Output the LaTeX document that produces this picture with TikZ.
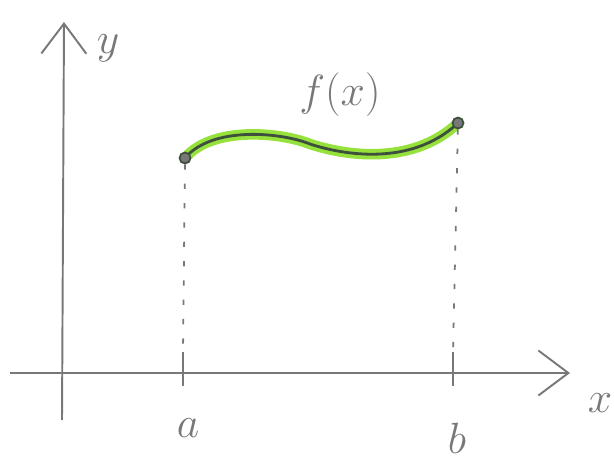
\documentclass[tikz,border=0pt]{standalone}
\usepackage{xcolor}
\definecolor{pencil}{RGB}{120,120,120}
\definecolor{hlgreen}{RGB}{150,225,60}
\definecolor{curvedark}{RGB}{60,80,60}
\usetikzlibrary{arrows.meta}

\begin{document}
\begin{tikzpicture}[
  x=0.02cm,y=0.02cm,
  axis/.style={draw=pencil,line width=1.1pt,-{Straight Barb[length=0.6cm,width=0.9cm]}},
  guide/.style={draw=pencil,line width=1pt,dash pattern=on 3pt off 8pt},
  tick/.style={draw=pencil,line width=1.2pt},
  lbl/.style={text=pencil,font=\fontsize{30}{32}\selectfont},
  dot/.style={circle,draw=curvedark,fill=pencil,line width=1pt,inner sep=0pt,minimum size=0.22cm}
]
  \useasboundingbox (0,0) rectangle (614,468);

  % Axes
  \coordinate (xs) at (10,95);
  \coordinate (xe) at (570,95);
  \coordinate (ys) at (62,48);
  \coordinate (ye) at (64,446);
  \draw[axis] (xs) -- (xe);
  \draw[axis] (ys) -- (ye);
  \node[lbl] (ylab) at (108,420) {$y$};
  \node[lbl] (xlab) at (600,65) {$x$};

  % Interval ends
  \coordinate (ta) at (183,116);
  \coordinate (tb) at (453,116);
  \coordinate (ba) at (183,82);
  \coordinate (bb) at (453,82);
  \draw[tick] (ta) -- (ba);
  \draw[tick] (tb) -- (bb);
  \node[lbl] (alab) at (188,40) {$a$};
  \node[lbl] (blab) at (457,30) {$b$};

  % Curve
  \coordinate (pa) at (185,310);
  \coordinate (pm) at (310,324);
  \coordinate (pb) at (458,345);
  \draw[hlgreen,line width=6pt,line cap=round]
    (pa) .. controls (212,342) and (280,336) .. (pm)
         .. controls (340,314) and (410,300) .. (pb);
  \draw[curvedark,line width=1.6pt,line cap=round]
    (pa) .. controls (212,342) and (280,336) .. (pm)
         .. controls (340,314) and (410,300) .. (pb);
  \node[dot] (fa) at (pa) {};
  \node[dot] (fb) at (pb) {};
  \node[lbl] (flab) at (340,373) {$f(x)$};

  \draw[guide] (fa) -- (ta);
  \draw[guide] (fb) -- (tb);
\end{tikzpicture}
\end{document}
